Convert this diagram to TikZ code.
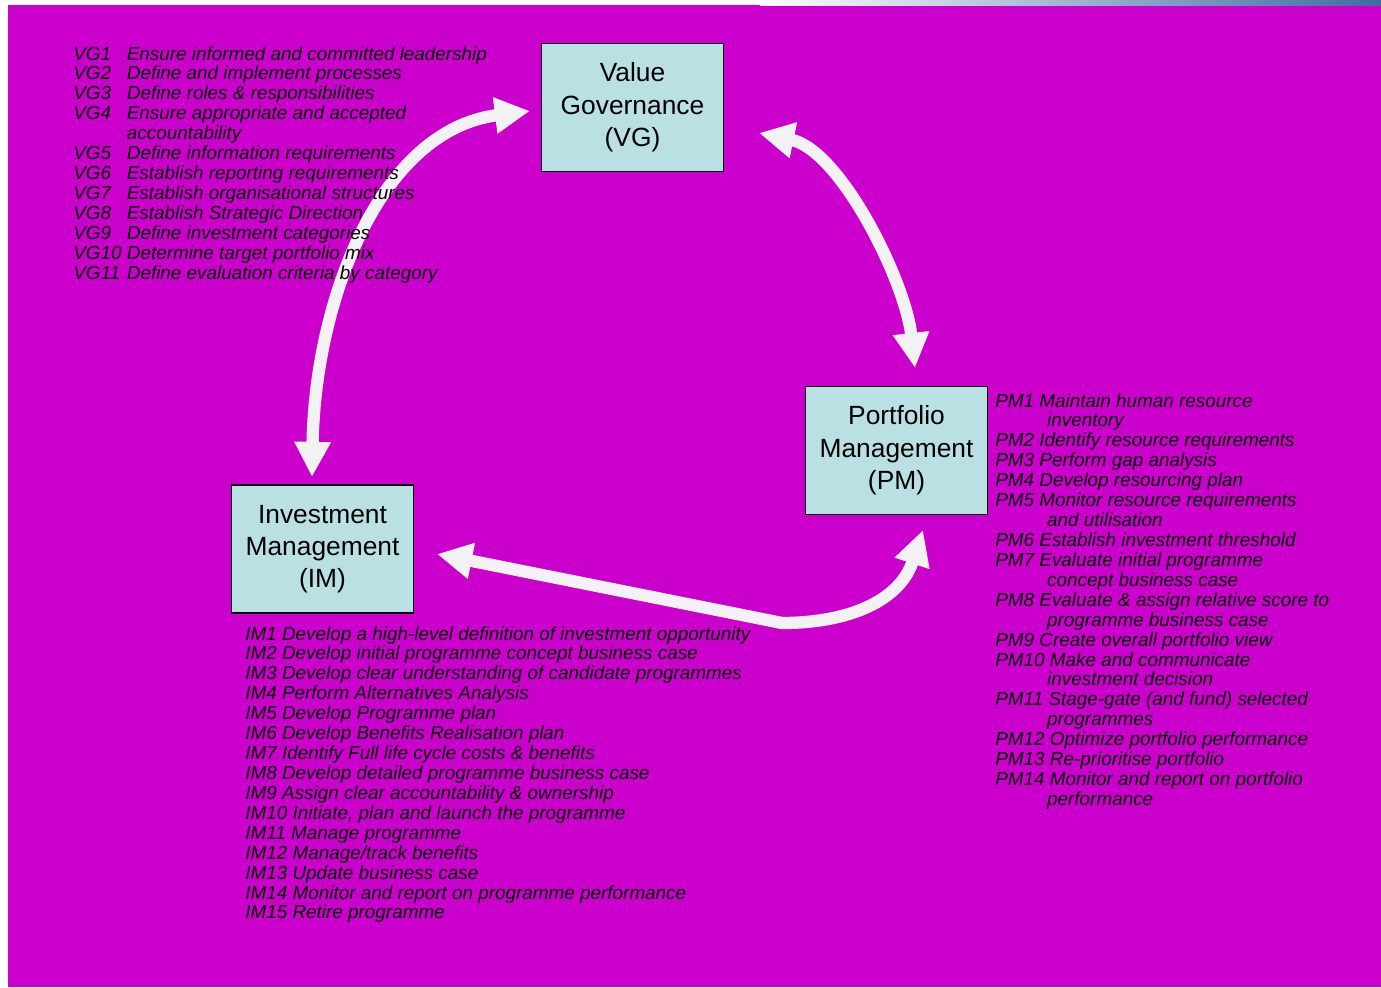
\documentclass[tikz,border=0pt]{standalone}
\usepackage{fontspec}
\setmainfont{Liberation Sans}
\usetikzlibrary{arrows.meta}
\definecolor{slide}{RGB}{204,0,204}
\definecolor{boxfill}{RGB}{185,224,227}
\definecolor{arrowwhite}{RGB}{242,242,242}
\definecolor{bannerblue}{RGB}{62,108,160}
\definecolor{bannergrey}{RGB}{150,170,190}
\newcommand{\contind}{\hspace*{29.5pt}}
\begin{document}
\begin{tikzpicture}[x=0.02cm,y=-0.02cm,
  stage/.style={draw=black, line width=0.9pt, fill=boxfill,
    minimum width=103.5pt, minimum height=73pt, inner sep=0pt,
    align=center, font=\fontsize{15}{18.4}\selectfont},
  flow/.style={draw=arrowwhite, line width=7pt,
    {Triangle[length=20pt,width=19.5pt]}-{Triangle[length=20pt,width=19.5pt]}},
  itemlist/.style={anchor=base west, inner sep=0pt,
    font=\fontsize{10.75}{11.34}\selectfont\itshape}]

% page and slide background
\useasboundingbox (0,0) rectangle (1381,987);
\fill[white] (0,0) rectangle (1381,987);
\fill[slide] (8,5) rectangle (1381,987);
\shade[left color=white, middle color=bannergrey, right color=bannerblue]
  (760,0) rectangle (1381,5);

% the three stages
\node[stage] (vg) at (632.5,107.5) {Value\\Governance\\(VG)};
\node[stage] (pm) at (896.5,450.5) {Portfolio\\Management\\(PM)};
\node[stage] (im) at (322.5,549)   {Investment\\Management\\(IM)};

% arrow end points beside each stage
\coordinate (vgW) at (530,111);
\coordinate (vgE) at (759,133);
\coordinate (pmN) at (915,368);
\coordinate (pmS) at (923,530);
\coordinate (imN) at (312,477);
\coordinate (imE) at (437,554);
\coordinate (bend) at (782,623);

% two-way flows between the stages
\draw[flow] (imN) .. controls (315,300) and (380,130) .. (vgW);
\draw[flow] (vgE) .. controls (840,150) and (905,280) .. (pmN);
\draw[flow] (imE) -- (bend) .. controls (850,623) and (900,600) .. (pmS);

% process lists
\node[itemlist] (vglist) at (73,60) {%
\begin{tabular}[t]{@{}l@{\ }l@{}}
VG1 & Ensure informed and committed leadership\\
VG2 & Define and implement processes\\
VG3 & Define roles \& responsibilities\\
VG4 & Ensure appropriate and accepted\\
    & accountability\\
VG5 & Define information requirements\\
VG6 & Establish reporting requirements\\
VG7 & Establish organisational structures\\
VG8 & Establish Strategic Direction\\
VG9 & Define investment categories\\
VG10 & Determine target portfolio mix\\
VG11 & Define evaluation criteria by category
\end{tabular}};

\node[itemlist] (imlist) at (245,640) {%
\begin{tabular}[t]{@{}l@{}}
IM1 Develop a high-level definition of investment opportunity\\
IM2 Develop initial programme concept business case\\
IM3 Develop clear understanding of candidate programmes\\
IM4 Perform Alternatives Analysis\\
IM5 Develop Programme plan\\
IM6 Develop Benefits Realisation plan\\
IM7 Identify Full life cycle costs \& benefits\\
IM8 Develop detailed programme business case\\
IM9 Assign clear accountability \& ownership\\
IM10 Initiate, plan and launch the programme\\
IM11 Manage programme\\
IM12 Manage/track benefits\\
IM13 Update business case\\
IM14 Monitor and report on programme performance\\
IM15 Retire programme
\end{tabular}};

\node[itemlist] (pmlist) at (995,407) {%
\begin{tabular}[t]{@{}l@{}}
PM1 Maintain human resource\\
\contind inventory\\
PM2 Identify resource requirements\\
PM3 Perform gap analysis\\
PM4 Develop resourcing plan\\
PM5 Monitor resource requirements\\
\contind and utilisation\\
PM6 Establish investment threshold\\
PM7 Evaluate initial programme\\
\contind concept business case\\
PM8 Evaluate \& assign relative score to\\
\contind programme business case\\
PM9 Create overall portfolio view\\
PM10 Make and communicate\\
\contind investment decision\\
PM11 Stage-gate (and fund) selected\\
\contind programmes\\
PM12 Optimize portfolio performance\\
PM13 Re-prioritise portfolio\\
PM14 Monitor and report on portfolio\\
\contind performance
\end{tabular}};
\end{tikzpicture}
\end{document}
